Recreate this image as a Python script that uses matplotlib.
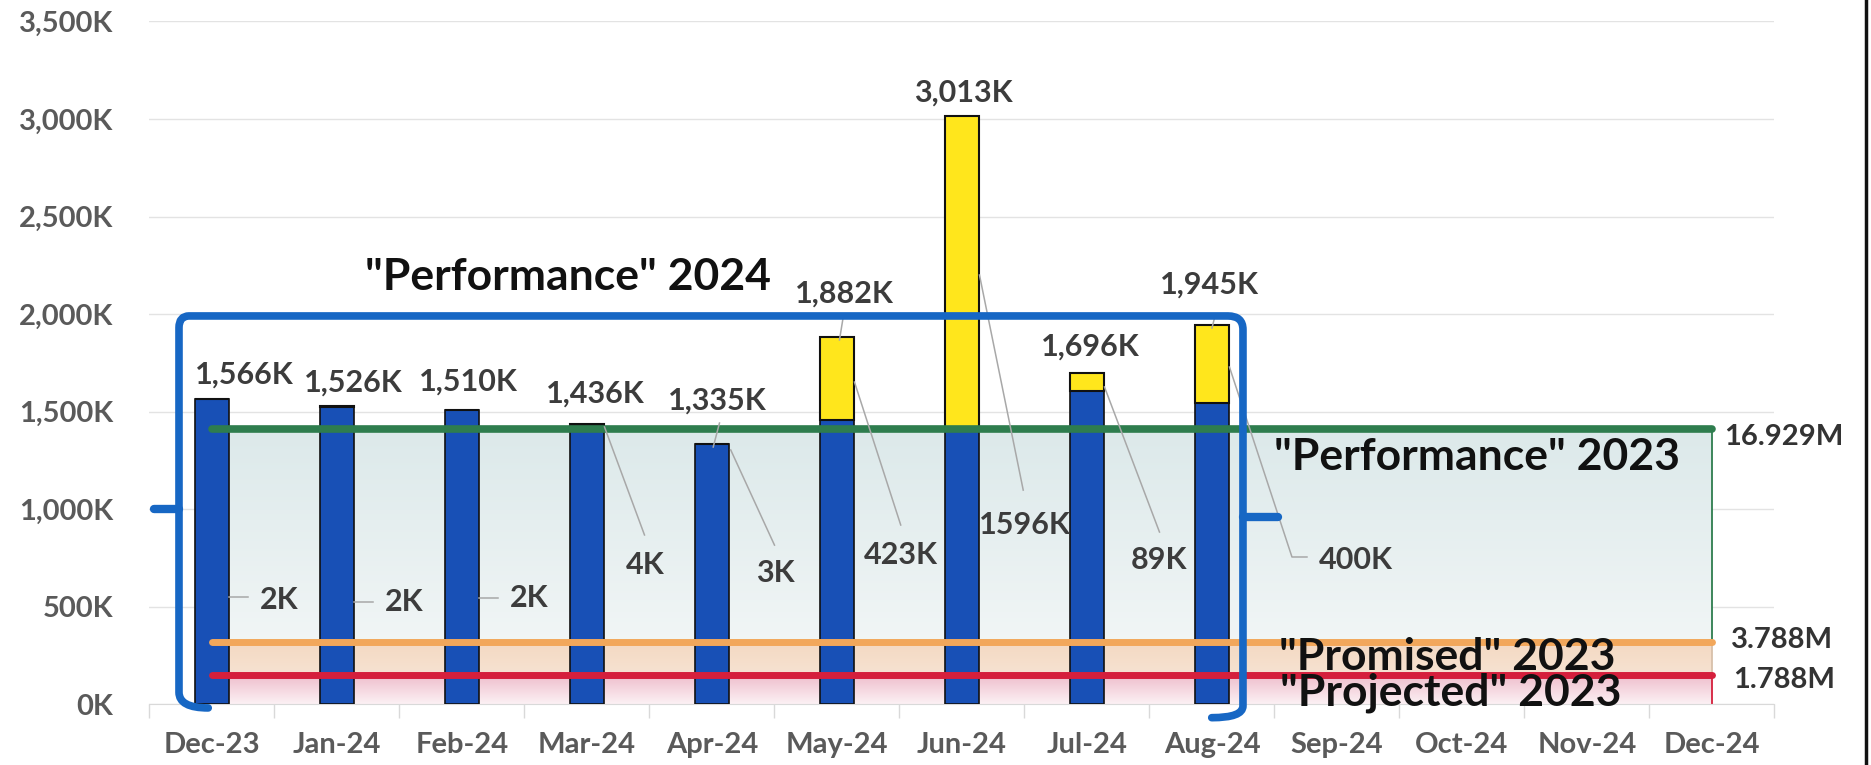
import numpy as np
import matplotlib
matplotlib.use('Agg')
import matplotlib.pyplot as plt
from matplotlib.path import Path
from matplotlib.patches import PathPatch
from matplotlib.lines import Line2D
from matplotlib.colors import LinearSegmentedColormap
from matplotlib.ticker import FuncFormatter, FixedLocator

plt.rcParams['font.family'] = ['Lato', 'DejaVu Sans']

# Categories
months = ['Dec-23', 'Jan-24', 'Feb-24', 'Mar-24', 'Apr-24', 'May-24', 'Jun-24',
          'Jul-24', 'Aug-24', 'Sep-24', 'Oct-24', 'Nov-24', 'Dec-24']

# Bars (thousands): blue base + yellow extra, labels show the totals
base_vals = [1564, 1524, 1508, 1432, 1332, 1459, 1417, 1607, 1545]
extra_vals = [2, 2, 2, 4, 3, 423, 1596, 89, 400]
total_vals = [1566, 1526, 1510, 1436, 1335, 1882, 3013, 1696, 1945]

# 2023 reference levels (monthly, thousands) and their yearly labels
perf23_level = 1411
promised23_level = 316
projected23_level = 149
perf23_label = '16.929M'
promised23_label = '3.788M'
projected23_label = '1.788M'

# label placement (category units, K units)
total_label_pos = [(0.26, 1690), (1.13, 1650), (2.05, 1655), (3.07, 1592), (4.04, 1557),
                   (5.06, 2105), (6.01, 3133), (7.03, 1833), (7.98, 2150)]
extra_label_pos = [(0.54, 533), (1.54, 523), (2.54, 544), (3.47, 713), (4.51, 672),
                   (5.51, 764), (6.5, 918), (7.58, 738), (9.15, 738)]
extra_leaders = [[(0.14, 549), (0.29, 549)], [(1.14, 523), (1.29, 523)],
                 [(2.14, 544), (2.29, 544)], [(3.14, 1421), (3.46, 867)],
                 [(4.15, 1303), (4.5, 815)], [(5.14, 1651), (5.51, 918)],
                 [(6.14, 2200), (6.49, 1097)], [(7.14, 1626), (7.58, 882)],
                 [(8.14, 1728), (8.64, 754), (8.76, 754)]]
total_leaders = [[(4.06, 1441), (4.01, 1318)], [(5.05, 1985), (5.02, 1867)],
                 [(8.02, 1979), (8.0, 1928)]]

blue = '#1850b6'
yellow = '#ffe61c'
green = '#2e7d4e'
orange = '#f2a75b'
red = '#d51f3c'
brace_blue = '#1767c4'
label_grey = '#3c3c3c'
tick_grey = '#5a5a5a'
leader_grey = '#a8a8a8'

fig = plt.figure(figsize=(18.71, 7.65), dpi=100)
ax = fig.add_axes([0.0799, 0.0797, 0.8685, 0.8922])

x_all = np.arange(len(months))
x_bar = np.arange(len(base_vals))
last = len(months) - 1


def grad_area(top, c_top, c_bot, z):
    cmap = LinearSegmentedColormap.from_list('g', [c_bot, c_top])
    grad = np.linspace(0, 1, 256).reshape(-1, 1)
    ax.imshow(grad, cmap=cmap, extent=[0, last, 0, top], origin='lower',
              aspect='auto', zorder=z, interpolation='bicubic')


# shaded areas under the 2023 levels
grad_area(perf23_level, '#dce9ea', '#f7f9f9', 1)
grad_area(promised23_level, '#f4d9c2', '#f8ebe0', 1.1)
grad_area(projected23_level, '#eebccb', '#fcf1f4', 1.2)
ax.plot([last, last], [promised23_level, perf23_level], color=green, lw=1.3, zorder=1.3)
ax.plot([last, last], [projected23_level, promised23_level], color='#d8c0aa', lw=1.3, zorder=1.3)
ax.plot([last, last], [0, projected23_level], color=red, lw=1.3, zorder=1.3)

# stacked bars
ax.bar(x_bar, base_vals, width=0.265, color=blue, edgecolor='#111111', lw=1.2, zorder=3)
ax.bar(x_bar, extra_vals, bottom=base_vals, width=0.265, color=yellow,
       edgecolor='#111111', lw=1.5, zorder=3)

# 2023 level lines over the bars
ax.plot(x_all, [perf23_level] * len(months), color=green, lw=5.5, zorder=4,
        solid_capstyle='round')
ax.plot(x_all, [promised23_level] * len(months), color=orange, lw=5, zorder=4,
        solid_capstyle='round')
ax.plot(x_all, [projected23_level] * len(months), color=red, lw=5, zorder=4,
        solid_capstyle='round')

# data labels
for (lx, ly), v in zip(total_label_pos, total_vals):
    ax.text(lx, ly, f'{v:,}K', ha='center', va='center', fontsize=22,
            fontweight='bold', color=label_grey, zorder=6)
for (lx, ly), v in zip(extra_label_pos, extra_vals):
    ax.text(lx, ly, f'{v}K', ha='center', va='center', fontsize=22,
            fontweight='bold', color=label_grey, zorder=6)
for pts in extra_leaders + total_leaders:
    xs, ys = zip(*pts)
    ax.plot(xs, ys, color=leader_grey, lw=1.1, zorder=5, clip_on=False)

# the blue bracket around 2024
L, R, T = -0.264, 8.248, 1990
verts = [(-0.03, -20), (L, -20), (L, 60),
         (L, 1930), (L, T), (L + 0.08, T),
         (R - 0.12, T), (R, T), (R, 1920),
         (R, -10), (R, -70), (R - 0.25, -70)]
codes = [Path.MOVETO, Path.CURVE3, Path.CURVE3,
         Path.LINETO, Path.CURVE3, Path.CURVE3,
         Path.LINETO, Path.CURVE3, Path.CURVE3,
         Path.LINETO, Path.CURVE3, Path.CURVE3]
ax.add_patch(PathPatch(Path(verts, codes), fill=False, edgecolor=brace_blue, lw=5.5,
                       zorder=5, clip_on=False, capstyle='round', joinstyle='round'))
ax.plot([L, L - 0.2], [1000, 1000], color=brace_blue, lw=6, zorder=5, clip_on=False,
        solid_capstyle='round')
ax.plot([R, R + 0.28], [960, 960], color=brace_blue, lw=6, zorder=5, clip_on=False,
        solid_capstyle='round')

# big annotations
big = dict(ha='center', va='center', fontsize=32, fontweight='bold', color='#111111', zorder=7)
ax.text(2.85, 2190, '"Performance" 2024', **big)
ax.text(10.12, 1267, '"Performance" 2023', **big)
ax.text(9.88, 240, '"Promised" 2023', **big)
ax.text(9.91, 60, '"Projected" 2023', **big)

side = dict(ha='left', va='center', fontsize=21, fontweight='bold', color='#333333',
            zorder=7, clip_on=False)
ax.text(12.1, 1369, perf23_label, **side)
ax.text(12.15, 328, promised23_label, **side)
ax.text(12.17, 123, projected23_label, **side)

# axes styling
ax.set_xlim(-0.5, len(months) - 0.5)
ax.set_ylim(0, 3500)
ax.set_yticks(np.arange(0, 3501, 500))
ax.yaxis.set_major_formatter(FuncFormatter(lambda v, p: f'{int(v):,}K'))
ax.set_xticks(x_all)
ax.set_xticklabels(months)
ax.xaxis.set_minor_locator(FixedLocator(np.arange(-0.5, len(months), 1.0)))
ax.tick_params(axis='x', which='major', length=0, pad=20, labelsize=21, labelcolor=tick_grey)
ax.tick_params(axis='x', which='minor', length=10, color='#d9d9d9', width=1)
ax.tick_params(axis='y', length=0, pad=26, labelsize=21, labelcolor=tick_grey)
for t in ax.get_xticklabels() + ax.get_yticklabels():
    t.set_fontweight('bold')
ax.grid(axis='y', color='#e3e3e3', lw=1, zorder=0)
ax.set_axisbelow(True)
for s in ['top', 'right', 'left']:
    ax.spines[s].set_visible(False)
ax.spines['bottom'].set_color('#d9d9d9')

# scanner edge on the right
fig.add_artist(Line2D([1866 / 1871, 1866 / 1871], [0, 1], color='#111111', lw=2.5))

plt.savefig('out.png', dpi=100)
